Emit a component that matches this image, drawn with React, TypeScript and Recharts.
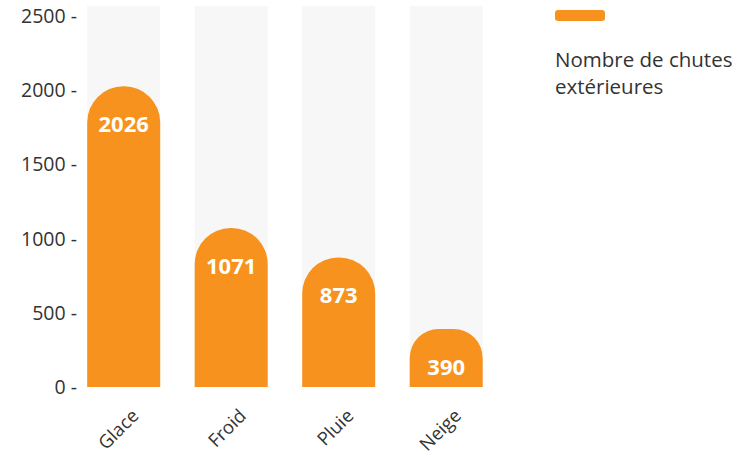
import React from 'react';
import { BarChart, Bar, XAxis, YAxis, LabelList } from 'recharts';

const categories = ['Glace', 'Froid', 'Pluie', 'Neige'];
const chutes = [2026, 1071, 873, 390];
const yTicks = [0, 500, 1000, 1500, 2000, 2500];

const ORANGE = '#f7921e';
const FONT = '"Open Sans", "Noto Sans", sans-serif';

const data = categories.map((name, i) => ({ name, chutes: chutes[i] }));

const YTick = (props: any) => {
    const { y, payload } = props;
    return (
        <text x={77} y={y} dy={7} textAnchor="end" fill="#333" fontSize={19.5} fontFamily={FONT}>
            {payload.value} -
        </text>
    );
};

const XTick = (props: any) => {
    const { x, y, payload } = props;
    return (
        <g transform={`translate(${x + 16},${y + 22})`}>
            <text textAnchor="end" fill="#333" fontSize={18.5} fontFamily={FONT} transform="rotate(-45)">
                {payload.value}
            </text>
        </g>
    );
};

// faint grey column behind each bar
const Track = (props: any) => {
    const { x, y, width, height } = props;
    return <rect x={x} y={y - 10} width={width} height={height + 10} fill="#f7f7f7" />;
};

const App: React.FC = () => {
    return (
        <div style={{ position: 'fixed', top: 0, left: 0, width: 740, height: 458, background: '#fff', fontFamily: FONT }}>
            <BarChart
                width={740}
                height={458}
                data={data}
                margin={{ top: 16, right: 240, left: 0, bottom: 41 }}
                barCategoryGap="16%"
            >
                <XAxis dataKey="name" axisLine={false} tickLine={false} tick={<XTick />} interval={0} height={30} />
                <YAxis
                    domain={[0, 2500]}
                    ticks={yTicks}
                    axisLine={false}
                    tickLine={false}
                    tick={<YTick />}
                    width={70}
                />
                <Bar
                    dataKey="chutes"
                    fill={ORANGE}
                    radius={[36, 36, 0, 0]}
                    background={<Track />}
                    isAnimationActive={false}
                >
                    <LabelList
                        dataKey="chutes"
                        position="insideTop"
                        offset={30}
                        fill="#fff"
                        fontSize={22}
                        fontWeight={700}
                        fontFamily={FONT}
                    />
                </Bar>
            </BarChart>

            {/* legend at top right */}
            <div style={{ position: 'absolute', left: 555, top: 10 }}>
                <div style={{ width: 50, height: 11, borderRadius: 3, background: ORANGE }}></div>
                <div style={{ marginTop: 25, fontSize: 20.5, lineHeight: '27px', color: '#333' }}>
                    Nombre de chutes
                    <br />
                    extérieures
                </div>
            </div>
        </div>
    );
};

export default App;
